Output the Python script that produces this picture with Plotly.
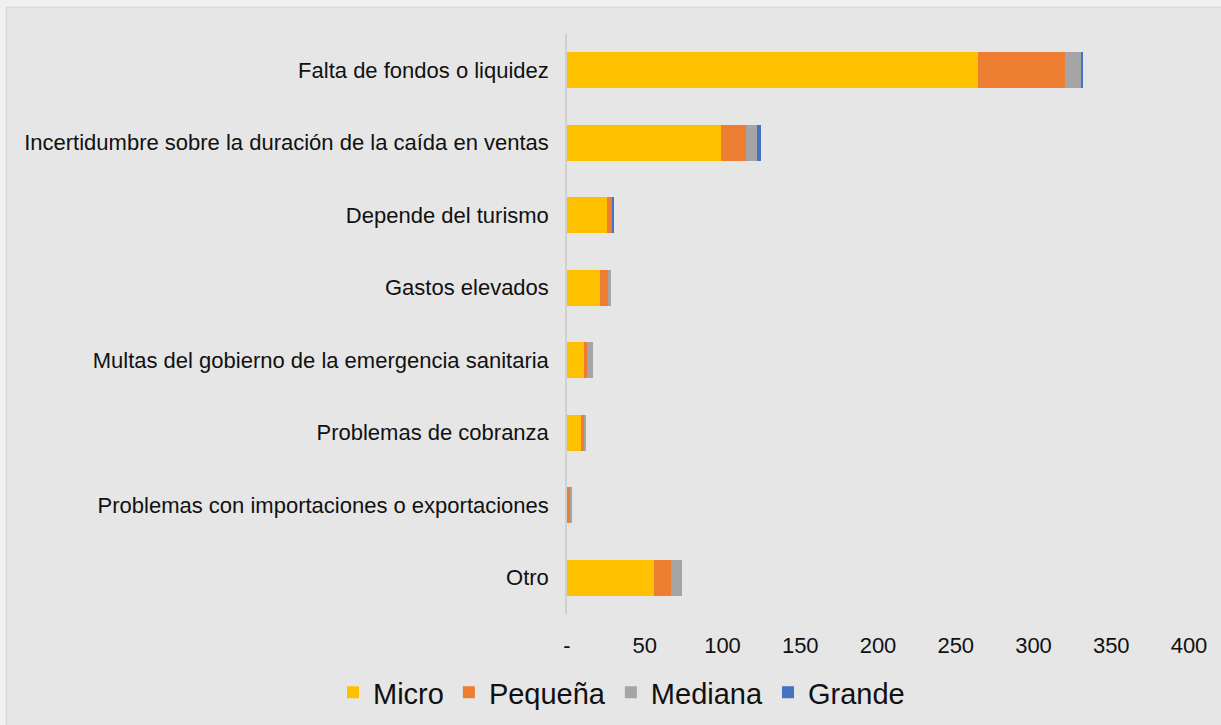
import plotly.graph_objects as go

categories = [
    "Falta de fondos o liquidez",
    "Incertidumbre sobre la duración de la caída en ventas",
    "Depende del turismo",
    "Gastos elevados",
    "Multas del gobierno de la emergencia sanitaria",
    "Problemas de cobranza",
    "Problemas con importaciones o exportaciones",
    "Otro",
]
micro = [264, 99, 26, 21, 11, 9, 0, 56]
pequena = [56, 16, 3, 6, 2, 2, 2, 11]
mediana = [11, 7, 0, 1, 4, 1, 1, 7]
grande = [1, 3, 1, 0, 0, 0, 0, 0]

tick_vals = [0, 50, 100, 150, 200, 250, 300, 350, 400]
tick_text = ["-", "50", "100", "150", "200", "250", "300", "350", "400"]

series = [
    ("Micro", micro, "#FFC000"),
    ("Pequeña", pequena, "#ED7D31"),
    ("Mediana", mediana, "#A5A5A5"),
    ("Grande", grande, "#4472C4"),
]

fig = go.Figure()
for name, vals, col in series:
    fig.add_trace(go.Bar(
        name=name, y=categories, x=vals, orientation="h",
        marker=dict(color=col, line=dict(width=0)),
    ))

W, H = 1221, 725
L, R, T, B = 567, 32, 34, 111
pw = W - L - R
ph = H - T - B

def px2x(p):
    return (p - L) / pw

def px2y(p):
    return (H - B - p) / ph

fig.add_shape(type="rect", xref="paper", yref="paper", layer="below",
              x0=px2x(6.5), x1=px2x(W + 10), y0=px2y(H + 10), y1=px2y(7.5),
              fillcolor="#E6E6E6", line=dict(color="#D9D9D9", width=1.5))

fig.update_layout(
    width=W, height=H,
    margin=dict(l=L, r=R, t=T, b=B),
    barmode="stack", bargap=0.5,
    paper_bgcolor="#F1EFF0", plot_bgcolor="rgba(0,0,0,0)",
    font=dict(family="Liberation Sans, Arial, sans-serif", size=22, color="#111111"),
    showlegend=True,
    legend=dict(orientation="h", xref="container", yref="container",
                x=0.509, xanchor="center", y=0.045, yanchor="middle",
                font=dict(size=29), traceorder="normal",
                bgcolor="rgba(0,0,0,0)"),
    xaxis=dict(range=[0, 400], tickvals=tick_vals, ticktext=tick_text,
               showgrid=False, zeroline=False, showline=False,
               ticks="", ticklabelstandoff=16, automargin=False,
               tickfont=dict(size=22)),
    yaxis=dict(autorange="reversed", showgrid=False, zeroline=False,
               showline=True, linecolor="#D0D0D0", linewidth=1.5,
               ticks="", ticklabelstandoff=12, automargin=False,
               tickfont=dict(size=22)),
)

fig.write_html("out.html", config={"displayModeBar": False},
               post_script="document.body.style.margin='0';document.body.style.overflow='hidden';")
